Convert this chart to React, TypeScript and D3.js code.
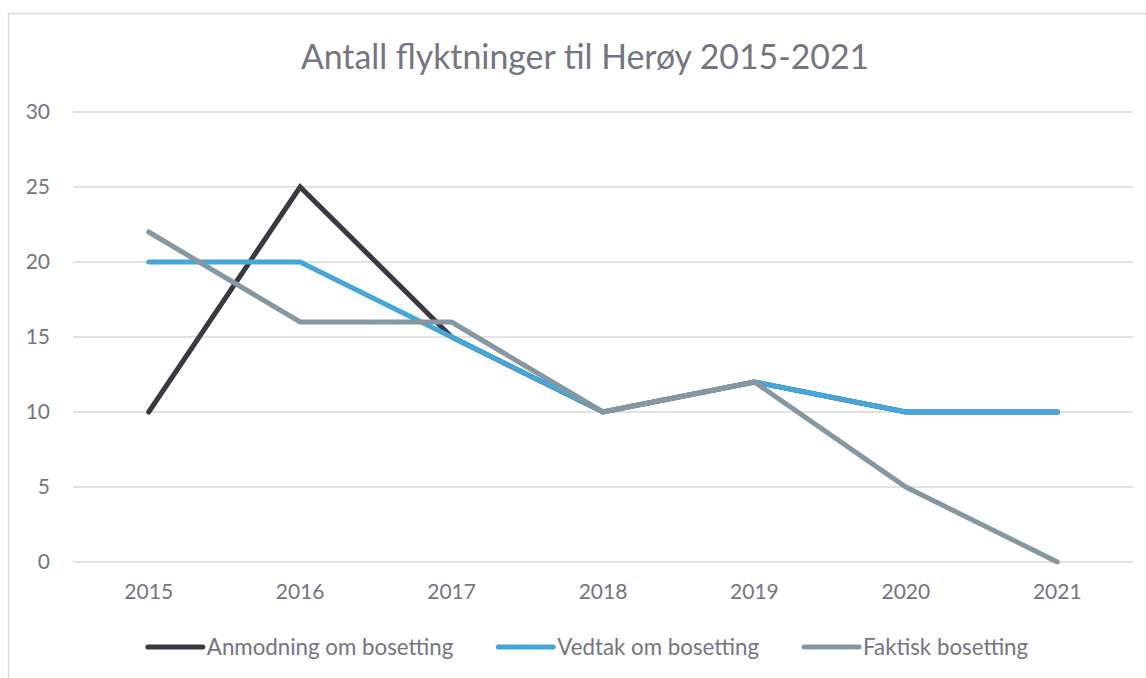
import { useEffect, useRef } from 'react';
import * as d3 from 'd3';

const years = ['2015', '2016', '2017', '2018', '2019', '2020', '2021'];
const anmodning = [10, 25, 15, 10, 12, 10, 10];
const vedtak = [20, 20, 15, 10, 12, 10, 10];
const faktisk = [22, 16, 16, 10, 12, 5, 0];
const yTicks = [0, 5, 10, 15, 20, 25, 30];

const seriesNames = ['Anmodning om bosetting', 'Vedtak om bosetting', 'Faktisk bosetting'];
const seriesColors = ['#393a41', '#44a6d9', '#8597a1'];

const FONT = 'Lato, "Open Sans", sans-serif';
const TEXT = '#757582';

export default function App() {
  const svgRef = useRef<SVGSVGElement>(null);

  useEffect(() => {
    if (!svgRef.current) return;
    const svg = d3.select(svgRef.current);
    svg.selectAll('*').remove();

    const width = 1146;
    const height = 678;
    const plot = { left: 73, right: 1133, top: 112, bottom: 562 };

    // chart frame
    svg.append('rect')
      .attr('x', 8.5).attr('y', 13.5)
      .attr('width', width + 20).attr('height', height + 20)
      .attr('fill', '#fff').attr('stroke', '#d9d9d9').attr('stroke-width', 1.5);

    svg.append('text')
      .attr('x', 585).attr('y', 69)
      .attr('text-anchor', 'middle')
      .attr('font-family', FONT).attr('font-size', 33.8)
      .attr('fill', TEXT)
      .text('Antall flyktninger til Herøy 2015-2021');

    const x = d3.scaleBand().domain(years).range([plot.left, plot.right]);
    const y = d3.scaleLinear().domain([0, 30]).range([plot.bottom, plot.top]);
    const cx = (d: string) => (x(d) || 0) + x.bandwidth() / 2;

    // gridlines
    svg.append('g').selectAll('line')
      .data(yTicks).enter().append('line')
      .attr('x1', plot.left).attr('x2', plot.right)
      .attr('y1', d => y(d)).attr('y2', d => y(d))
      .attr('stroke', '#d9d9d9').attr('stroke-width', 1.5);

    svg.append('g').selectAll('text')
      .data(yTicks).enter().append('text')
      .attr('x', 50).attr('y', d => y(d))
      .attr('dy', '0.35em')
      .attr('text-anchor', 'end')
      .attr('font-family', FONT).attr('font-size', 21)
      .attr('fill', TEXT)
      .text(d => d);

    svg.append('g').selectAll('text')
      .data(years).enter().append('text')
      .attr('x', d => cx(d)).attr('y', 592)
      .attr('dy', '0.35em')
      .attr('text-anchor', 'middle')
      .attr('font-family', FONT).attr('font-size', 21)
      .attr('fill', TEXT)
      .text(d => d);

    const line = d3.line<number>()
      .x((_, i) => cx(years[i]))
      .y(d => y(d));

    [anmodning, vedtak, faktisk].forEach((s, i) => {
      svg.append('path')
        .datum(s)
        .attr('d', line)
        .attr('fill', 'none')
        .attr('stroke', seriesColors[i])
        .attr('stroke-width', 5)
        .attr('stroke-linecap', 'round')
        .attr('stroke-linejoin', 'miter');
    });

    // legend
    const lg = svg.append('g');
    const swatch = 55;
    const gap = 4;
    const spacing = 45;
    let pos = 0;
    seriesNames.forEach((name, i) => {
      const g = lg.append('g');
      g.append('line')
        .attr('x1', 0).attr('x2', swatch)
        .attr('y1', 0).attr('y2', 0)
        .attr('stroke', seriesColors[i]).attr('stroke-width', 5)
        .attr('stroke-linecap', 'round');
      const t = g.append('text')
        .attr('x', swatch + gap).attr('y', 0).attr('dy', '0.35em')
        .attr('font-family', FONT).attr('font-size', 22.3)
        .attr('fill', TEXT)
        .text(name);
      const w = swatch + gap + (t.node() as SVGTextElement).getComputedTextLength();
      g.attr('transform', `translate(${pos},0)`);
      pos += w + spacing;
    });
    const total = pos - spacing;
    lg.attr('transform', `translate(${588 - total / 2},647)`);
  }, []);

  return (
    <svg
      ref={svgRef}
      width={1146}
      height={678}
      style={{ position: 'absolute', left: 0, top: 0, display: 'block' }}
    />
  );
}
